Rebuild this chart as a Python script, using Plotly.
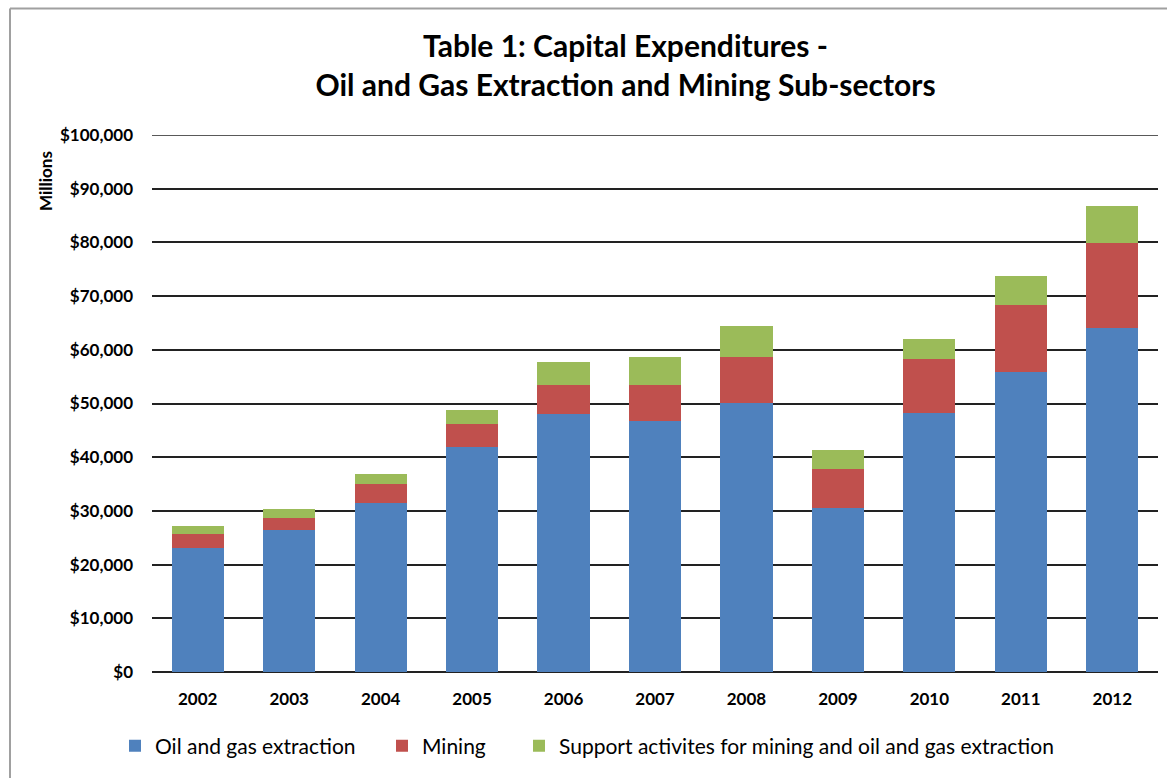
import plotly.graph_objects as go

years = ["2002", "2003", "2004", "2005", "2006", "2007", "2008", "2009", "2010", "2011", "2012"]
oil_gas = [23100, 26400, 31500, 41900, 48100, 46800, 50100, 30600, 48200, 55900, 64000]
mining = [2600, 2300, 3450, 4300, 5300, 6600, 8600, 7250, 10050, 12450, 15850]
support = [1500, 1700, 1950, 2600, 4330, 5270, 5800, 3550, 3820, 5450, 7000]

series_names = ["Oil and gas extraction", "Mining", "Support activites for mining and oil and gas extraction"]
colors = ["#4F81BD", "#C0504D", "#9BBB59"]
y_ticks = [0, 10000, 20000, 30000, 40000, 50000, 60000, 70000, 80000, 90000, 100000]
y_tick_text = ["$0", "$10,000", "$20,000", "$30,000", "$40,000", "$50,000", "$60,000",
               "$70,000", "$80,000", "$90,000", "$100,000"]

FONT = "Lato, 'Open Sans', sans-serif"
L, R, T, B = 152, 9, 135, 106
PW, PH = 1167 - L - R, 778 - T - B

def px_x(x):
    return (x - L) / PW

def px_y(y):
    return (778 - B - y) / PH

legend_ids = ["legend", "legend2", "legend3"]
legend_x = [115, 382, 519]

fig = go.Figure()
for name, vals, col, lid in zip(series_names, [oil_gas, mining, support], colors, legend_ids):
    fig.add_trace(go.Bar(x=years, y=vals, name=name, legend=lid,
                         marker=dict(color=col, line=dict(width=0))))

legend_common = dict(orientation="h", yanchor="middle", xanchor="left",
                     font=dict(size=21, family=FONT, color="black"),
                     bgcolor="rgba(0,0,0,0)", itemwidth=30)

fig.update_layout(
    barmode="stack",
    bargap=0.43,
    width=1167,
    height=778,
    margin=dict(l=L, r=R, t=T, b=B, autoexpand=False),
    paper_bgcolor="white",
    plot_bgcolor="white",
    font=dict(family=FONT, color="black"),
    title=dict(
        text="<b>Table 1: Capital Expenditures -<br>Oil and Gas Extraction and Mining Sub-sectors</b>",
        x=0.536, xanchor="center", y=0.927, yanchor="top",
        font=dict(size=30, family=FONT, color="black"),
    ),
    legend=dict(x=px_x(legend_x[0]), y=px_y(746), **legend_common),
    legend2=dict(x=px_x(legend_x[1]), y=px_y(746), **legend_common),
    legend3=dict(x=px_x(legend_x[2]), y=px_y(746), **legend_common),
    showlegend=True,
)

fig.update_xaxes(
    type="category",
    tickvals=years, ticktext=["<b>%s</b>" % y for y in years],
    tickfont=dict(size=17, family=FONT, color="black"),
    ticklabelstandoff=15,
    showline=False, showgrid=False, ticks="",
)
fig.update_yaxes(
    range=[0, 100000],
    tickvals=y_ticks, ticktext=["<b>%s</b>" % t for t in y_tick_text],
    tickfont=dict(size=17, family=FONT, color="black"),
    showgrid=True, gridcolor="#222222", gridwidth=1.5,
    zeroline=True, zerolinecolor="#222222", zerolinewidth=1.5,
    ticks="", ticklabelstandoff=18,
)

# top gridline (plotly drops gridlines that sit exactly on the plot edge)
fig.add_shape(type="line", xref="paper", yref="y",
              x0=0, x1=1, y0=y_ticks[-1], y1=y_ticks[-1],
              line=dict(color="#222222", width=1.5), layer="below")

fig.add_annotation(
    text="<b>Millions</b>", textangle=-90, xref="paper", yref="paper",
    x=px_x(45), y=px_y(181), showarrow=False,
    font=dict(size=17, family=FONT, color="black"), xanchor="center", yanchor="middle",
)

# chart-area border (only the top and left edges are visible in the reference)
fig.add_shape(type="line", xref="paper", yref="paper",
              x0=px_x(10), x1=px_x(1167), y0=px_y(8.5), y1=px_y(8.5),
              line=dict(color="#A0A0A0", width=2), layer="below")
fig.add_shape(type="line", xref="paper", yref="paper",
              x0=px_x(10), x1=px_x(10), y0=px_y(8.5), y1=px_y(778),
              line=dict(color="#A0A0A0", width=2), layer="below")

fig.write_html("out.html")
